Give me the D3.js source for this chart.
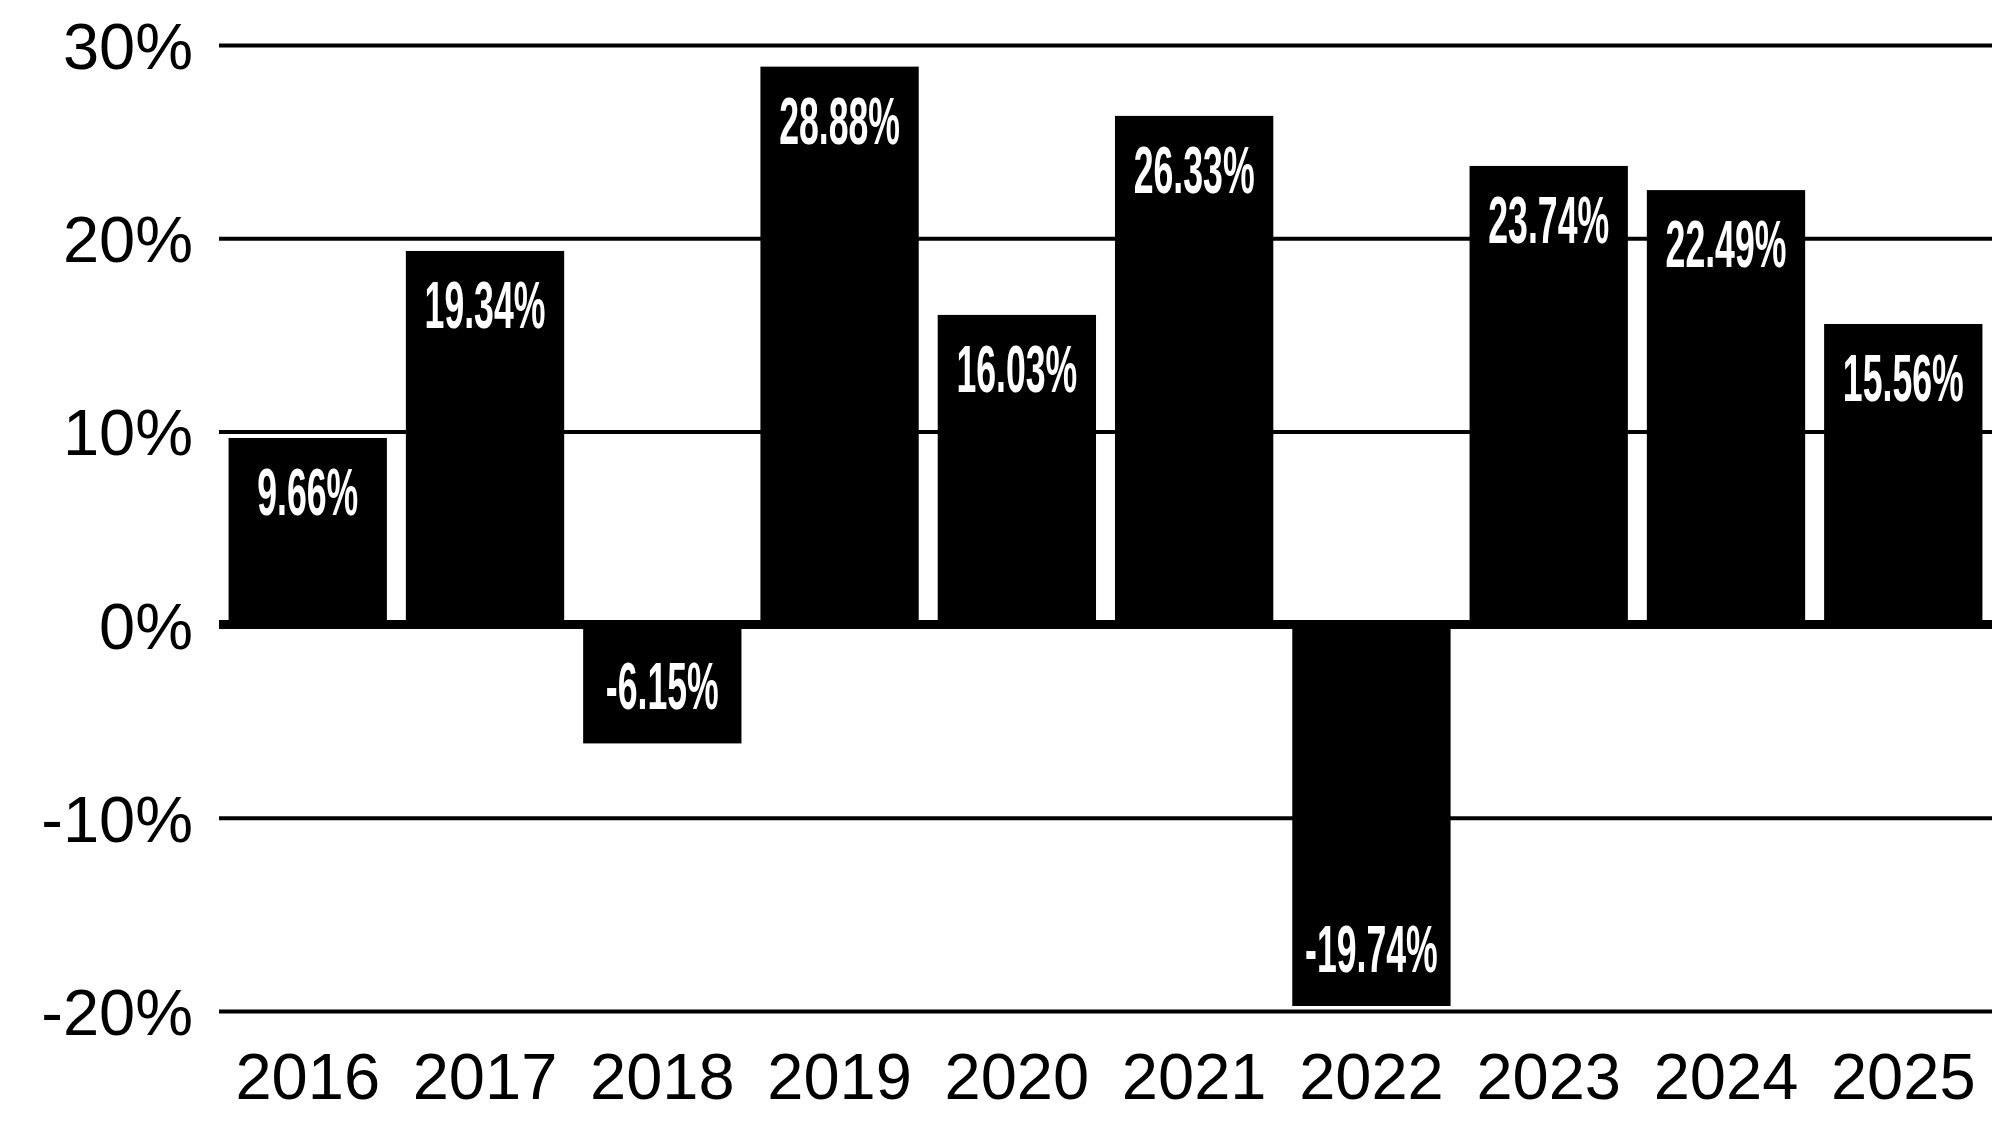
<!DOCTYPE html>
<html>
<head>
<meta charset="utf-8">
<script src="https://cdn.jsdelivr.net/npm/d3@7"></script>
<style>
  html, body { margin: 0; padding: 0; background: #fff; }
  svg { display: block; }
</style>
</head>
<body>
<svg id="chart" width="1992" height="1125"></svg>
<script>
const years = ['2016','2017','2018','2019','2020','2021','2022','2023','2024','2025'];
const returns = [9.66, 19.34, -6.15, 28.88, 16.03, 26.33, -19.74, 23.74, 22.49, 15.56];
const yTicks = [30, 20, 10, 0, -10, -20];
const labels = ['9.66%','19.34%','-6.15%','28.88%','16.03%','26.33%','-19.74%','23.74%','22.49%','15.56%'];

(function () {
const W = 1992, H = 1125;
const mLeft = 219, mRight = 1992, mTop = 45, mBottom = 1011;

const svg = d3.select('#chart');
svg.append('rect').attr('width', W).attr('height', H).attr('fill', '#fff');

const x = d3.scaleBand().domain(years).range([mLeft, mRight]).paddingInner(0.107).paddingOuter(0.054);
const y = d3.scaleLinear().domain([-20, 30]).range([mBottom, mTop]);

// y axis with gridlines
const yAxis = svg.append('g')
  .attr('transform', `translate(${mLeft},0)`)
  .call(d3.axisLeft(y).tickValues(yTicks).tickFormat(d => d + '%').tickSize(-(mRight - mLeft)).tickPadding(26));
yAxis.select('.domain').remove();
yAxis.selectAll('.tick line').attr('stroke', '#000').attr('stroke-width', 4);
yAxis.selectAll('.tick text')
  .attr('fill', '#000')
  .attr('font-family', '"Liberation Sans", Arial, sans-serif')
  .attr('font-size', 65)
  .attr('dy', '0.36em');

// bars
svg.append('g').selectAll('rect')
  .data(years)
  .join('rect')
  .attr('x', (d) => x(d))
  .attr('width', x.bandwidth())
  .attr('y', (d, i) => y(Math.max(0, returns[i])))
  .attr('height', (d, i) => Math.abs(y(returns[i]) - y(0)))
  .attr('fill', '#000');

// zero baseline
svg.append('line')
  .attr('x1', mLeft).attr('x2', mRight)
  .attr('y1', y(0)).attr('y2', y(0))
  .attr('stroke', '#000').attr('stroke-width', 9);

// value labels
svg.append('g').selectAll('text')
  .data(years)
  .join('text')
  .attr('transform', (d, i) => {
    const cx = x(d) + x.bandwidth() / 2;
    const v = returns[i];
    const by = v >= 0 ? y(v) + 77 : y(v) - 34;
    return `translate(${cx},${by}) scale(0.54,1)`;
  })
  .attr('text-anchor', 'middle')
  .attr('fill', '#fff')
  .attr('font-family', '"Liberation Sans", Arial, sans-serif')
  .attr('font-weight', 'bold')
  .attr('font-size', 66)
  .text((d, i) => labels[i]);

// x axis labels
const xAxis = svg.append('g')
  .attr('transform', `translate(0,${mBottom})`)
  .call(d3.axisBottom(x).tickSize(0).tickPadding(0));
xAxis.select('.domain').remove();
xAxis.selectAll('.tick text')
  .attr('fill', '#000')
  .attr('font-family', '"Liberation Sans", Arial, sans-serif')
  .attr('font-size', 65)
  .attr('y', 88)
  .attr('dy', 0);
})();
</script>
</body>
</html>
